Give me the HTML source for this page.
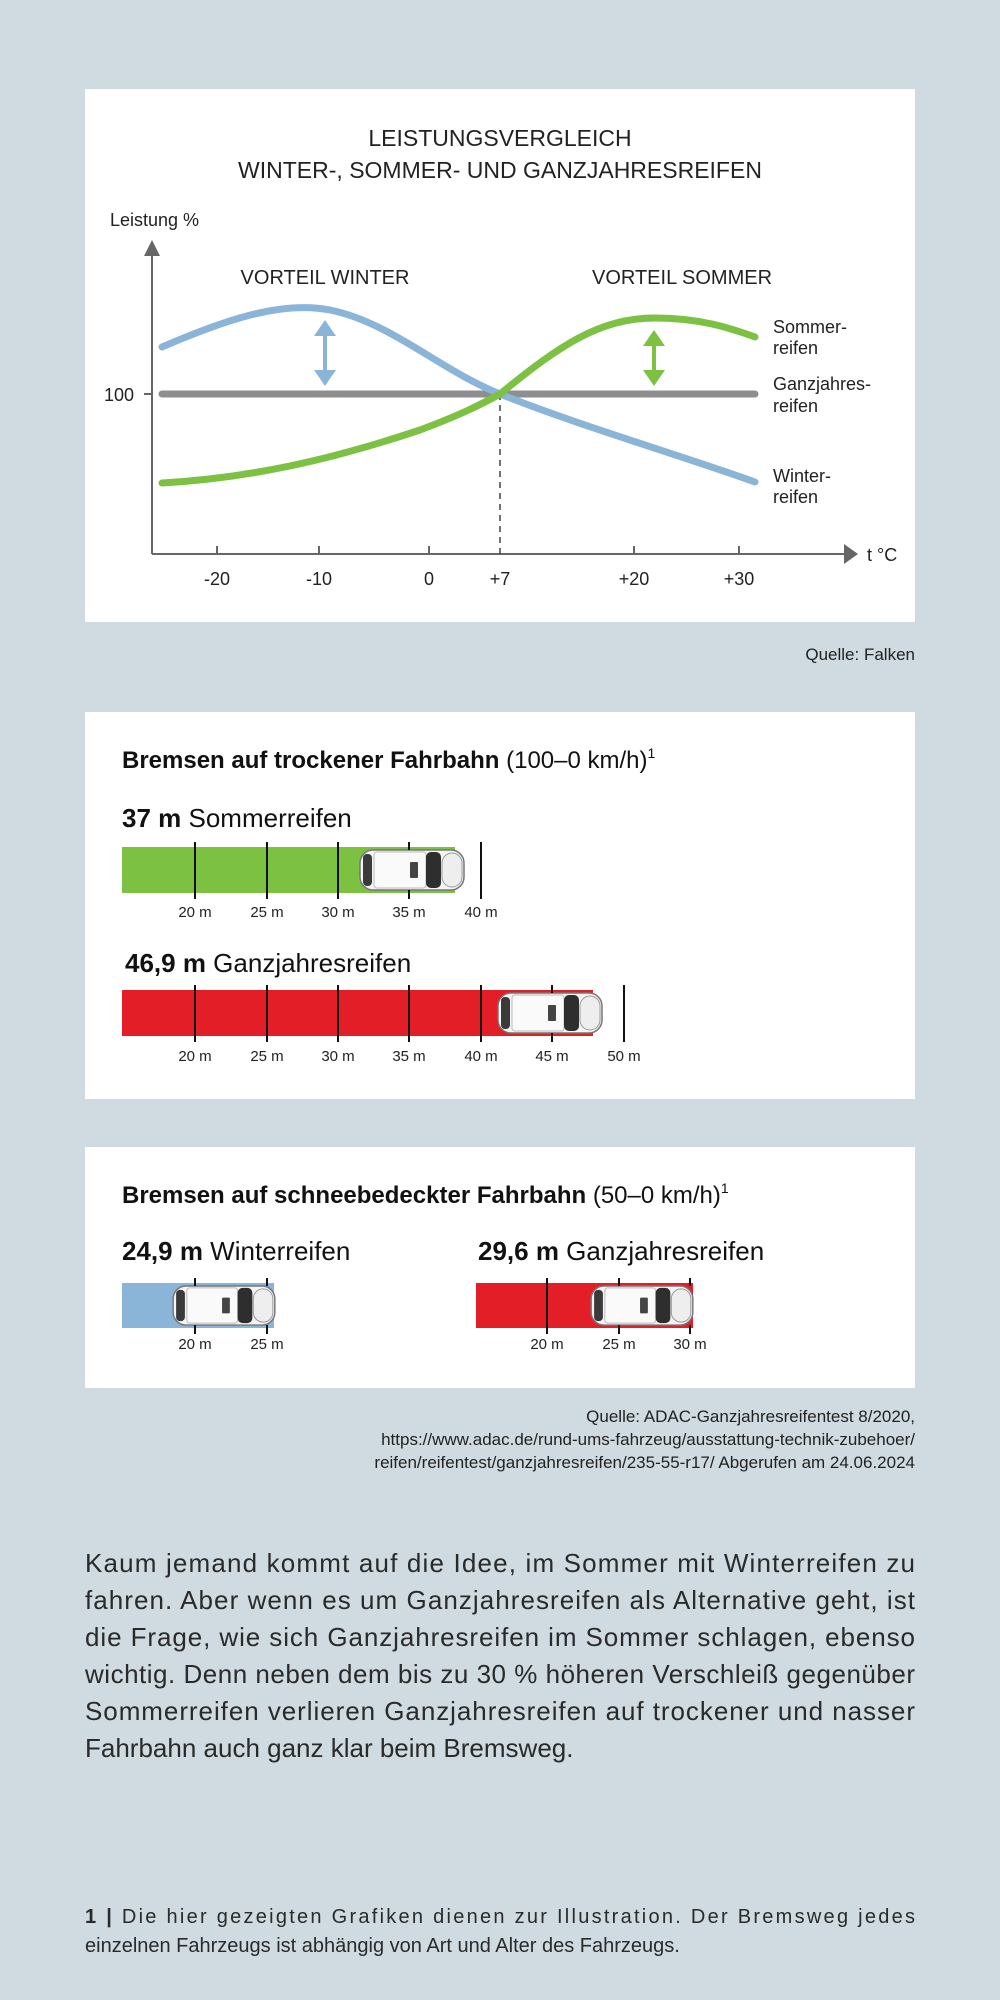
<!DOCTYPE html>
<html><head><meta charset="utf-8"><style>
html,body{margin:0;padding:0;background:#cfdbe1;}
svg{display:block}
text{font-family:"Liberation Sans",sans-serif;}
</style></head><body>
<svg width="1000" height="2000" viewBox="0 0 1000 2000" xmlns="http://www.w3.org/2000/svg">
<defs>
<symbol id="car" viewBox="0 0 108 44">
<rect x="2" y="2" width="104" height="40" rx="13" fill="#f4f4f4" stroke="#777" stroke-width="1.5"/>
<rect x="5" y="6" width="9" height="32" rx="4" fill="#3a3a3a"/>
<rect x="16" y="4" width="52" height="36" rx="3" fill="#fafafa" stroke="#bbb" stroke-width="1"/>
<rect x="68" y="4" width="15" height="36" rx="5" fill="#2e2e2e"/>
<rect x="52" y="14" width="8" height="16" rx="1" fill="#444"/>
<rect x="84" y="5" width="20" height="34" rx="10" fill="#eee" stroke="#999" stroke-width="1"/>
</symbol>
</defs>

<!-- Card 1 -->
<rect x="85" y="89" width="830" height="533" fill="#fff"/>
<text x="500" y="146" text-anchor="middle" font-size="23" fill="#222">LEISTUNGSVERGLEICH</text>
<text x="500" y="178" text-anchor="middle" font-size="23" fill="#222">WINTER-, SOMMER- UND GANZJAHRESREIFEN</text>
<text x="110" y="226" font-size="18" fill="#222">Leistung %</text>
<line x1="152" y1="252" x2="152" y2="554" stroke="#666" stroke-width="2"/>
<path d="M144,256 L152,240 L160,256 z" fill="#666"/>
<line x1="152" y1="554" x2="848" y2="554" stroke="#666" stroke-width="2"/>
<path d="M844,544 L858,554 L844,564 z" fill="#666"/>
<text x="867" y="561" font-size="18" fill="#222">t °C</text>
<line x1="144" y1="394" x2="152" y2="394" stroke="#666" stroke-width="2"/>
<text x="134" y="401" text-anchor="end" font-size="18" fill="#222">100</text>
<g stroke="#666" stroke-width="2">
<line x1="217" y1="554" x2="217" y2="546"/><line x1="319" y1="554" x2="319" y2="546"/>
<line x1="429" y1="554" x2="429" y2="546"/><line x1="634" y1="554" x2="634" y2="546"/>
<line x1="739" y1="554" x2="739" y2="546"/></g>
<g font-size="18" fill="#222" text-anchor="middle">
<text x="217" y="585">-20</text><text x="319" y="585">-10</text><text x="429" y="585">0</text>
<text x="500" y="585">+7</text><text x="634" y="585">+20</text><text x="739" y="585">+30</text></g>
<line x1="500" y1="394" x2="500" y2="554" stroke="#444" stroke-width="1.5" stroke-dasharray="6,5"/>
<text x="325" y="284" text-anchor="middle" font-size="20" fill="#222">VORTEIL WINTER</text>
<text x="682" y="284" text-anchor="middle" font-size="20" fill="#222">VORTEIL SOMMER</text>
<line x1="162" y1="394" x2="755" y2="394" stroke="#8e8e8e" stroke-width="7" stroke-linecap="round"/>
<path d="M162,347 C220,322 280,300 330,310 C390,322 440,370 500,394 C580,426 680,455 755,482" fill="none" stroke="#8ab4d8" stroke-width="7" stroke-linecap="round"/>
<path d="M162,483 C250,478 330,460 420,430 C460,415 480,405 500,394 C560,345 600,318 655,318 C700,318 730,328 755,337" fill="none" stroke="#7dc142" stroke-width="7" stroke-linecap="round"/>
<line x1="325" y1="330" x2="325" y2="376" stroke="#8ab4d8" stroke-width="4"/>
<path d="M314,336 L325,320 L336,336 z M314,370 L325,386 L336,370 z" fill="#8ab4d8"/>
<line x1="654" y1="340" x2="654" y2="376" stroke="#7dc142" stroke-width="4"/>
<path d="M643,346 L654,330 L665,346 z M643,370 L654,386 L665,370 z" fill="#7dc142"/>
<g font-size="18" fill="#222">
<text x="773" y="333">Sommer-</text><text x="773" y="354">reifen</text>
<text x="773" y="390">Ganzjahres-</text><text x="773" y="412">reifen</text>
<text x="773" y="482">Winter-</text><text x="773" y="503">reifen</text></g>
<text x="915" y="660" text-anchor="end" font-size="17" fill="#222">Quelle: Falken</text>

<!-- Card 2 -->
<rect x="85" y="712" width="830" height="387" fill="#fff"/>
<text x="122" y="768" font-size="24" fill="#111"><tspan font-weight="bold">Bremsen auf trockener Fahrbahn</tspan> (100–0 km/h)<tspan font-size="14" dy="-10">1</tspan></text>
<text x="122" y="827" font-size="26" fill="#111"><tspan font-weight="bold">37 m</tspan> Sommerreifen</text>
<rect x="122" y="847" width="333" height="46" fill="#7dc142"/>
<use href="#car" x="357" y="848" width="110" height="44"/>
<g stroke="#111" stroke-width="2">
<line x1="195" y1="842" x2="195" y2="899"/><line x1="267" y1="842" x2="267" y2="899"/>
<line x1="338" y1="842" x2="338" y2="899"/><line x1="409" y1="842" x2="409" y2="850"/><line x1="409" y1="890" x2="409" y2="899"/>
<line x1="481" y1="842" x2="481" y2="899"/></g>
<g font-size="15" fill="#222" text-anchor="middle">
<text x="195" y="917">20 m</text><text x="267" y="917">25 m</text><text x="338" y="917">30 m</text><text x="409" y="917">35 m</text><text x="481" y="917">40 m</text></g>
<text x="125" y="972" font-size="26" fill="#111"><tspan font-weight="bold">46,9 m</tspan> Ganzjahresreifen</text>
<rect x="122" y="990" width="471" height="46" fill="#e31e26"/>
<use href="#car" x="495" y="991" width="110" height="44"/>
<g stroke="#111" stroke-width="2">
<line x1="195" y1="985" x2="195" y2="1042"/><line x1="267" y1="985" x2="267" y2="1042"/>
<line x1="338" y1="985" x2="338" y2="1042"/><line x1="409" y1="985" x2="409" y2="1042"/>
<line x1="481" y1="985" x2="481" y2="1042"/><line x1="552" y1="985" x2="552" y2="993"/><line x1="552" y1="1033" x2="552" y2="1042"/>
<line x1="624" y1="985" x2="624" y2="1042"/></g>
<g font-size="15" fill="#222" text-anchor="middle">
<text x="195" y="1061">20 m</text><text x="267" y="1061">25 m</text><text x="338" y="1061">30 m</text><text x="409" y="1061">35 m</text><text x="481" y="1061">40 m</text><text x="552" y="1061">45 m</text><text x="624" y="1061">50 m</text></g>

<!-- Card 3 -->
<rect x="85" y="1147" width="830" height="241" fill="#fff"/>
<text x="122" y="1203" font-size="24" fill="#111"><tspan font-weight="bold">Bremsen auf schneebedeckter Fahrbahn</tspan> (50–0 km/h)<tspan font-size="14" dy="-10">1</tspan></text>
<text x="122" y="1260" font-size="26" fill="#111"><tspan font-weight="bold">24,9 m</tspan> Winterreifen</text>
<text x="478" y="1260" font-size="26" fill="#111"><tspan font-weight="bold">29,6 m</tspan> Ganzjahresreifen</text>
<rect x="122" y="1283" width="152" height="45" fill="#8ab4d8"/>
<use href="#car" x="170" y="1284" width="108" height="43"/>
<rect x="476" y="1283" width="217" height="45" fill="#e31e26"/>
<use href="#car" x="588" y="1284" width="108" height="43"/>
<g stroke="#111" stroke-width="2">
<line x1="195" y1="1278" x2="195" y2="1286"/><line x1="195" y1="1325" x2="195" y2="1334"/>
<line x1="267" y1="1278" x2="267" y2="1286"/><line x1="267" y1="1325" x2="267" y2="1334"/>
<line x1="547" y1="1278" x2="547" y2="1334"/>
<line x1="619" y1="1278" x2="619" y2="1286"/><line x1="619" y1="1325" x2="619" y2="1334"/>
<line x1="690" y1="1278" x2="690" y2="1286"/><line x1="690" y1="1325" x2="690" y2="1334"/></g>
<g font-size="15" fill="#222" text-anchor="middle">
<text x="195" y="1349">20 m</text><text x="267" y="1349">25 m</text>
<text x="547" y="1349">20 m</text><text x="619" y="1349">25 m</text><text x="690" y="1349">30 m</text></g>

<g font-size="17" fill="#222" text-anchor="end">
<text x="915" y="1422">Quelle: ADAC-Ganzjahresreifentest 8/2020,</text>
<text x="915" y="1445">https://www.adac.de/rund-ums-fahrzeug/ausstattung-technik-zubehoer/</text>
<text x="915" y="1468">reifen/reifentest/ganzjahresreifen/235-55-r17/ Abgerufen am 24.06.2024</text></g>

<g font-size="26" fill="#2a2a2a">
<text x="85" y="1572" textLength="830" lengthAdjust="spacing">Kaum jemand kommt auf die Idee, im Sommer mit Winterreifen zu</text>
<text x="85" y="1609" textLength="830" lengthAdjust="spacing">fahren. Aber wenn es um Ganzjahresreifen als Alternative geht, ist</text>
<text x="85" y="1646" textLength="830" lengthAdjust="spacing">die Frage, wie sich Ganzjahresreifen im Sommer schlagen, ebenso</text>
<text x="85" y="1683" textLength="830" lengthAdjust="spacing">wichtig. Denn neben dem bis zu 30 % höheren Verschleiß gegenüber</text>
<text x="85" y="1720" textLength="830" lengthAdjust="spacing">Sommerreifen verlieren Ganzjahresreifen auf trockener und nasser</text>
<text x="85" y="1757">Fahrbahn auch ganz klar beim Bremsweg.</text></g>
<g font-size="20" fill="#2a2a2a">
<text x="85" y="1923" textLength="830" lengthAdjust="spacing"><tspan font-weight="bold">1 |</tspan> Die hier gezeigten Grafiken dienen zur Illustration. Der Bremsweg jedes</text>
<text x="85" y="1952">einzelnen Fahrzeugs ist abhängig von Art und Alter des Fahrzeugs.</text></g>
</svg>
</body></html>
